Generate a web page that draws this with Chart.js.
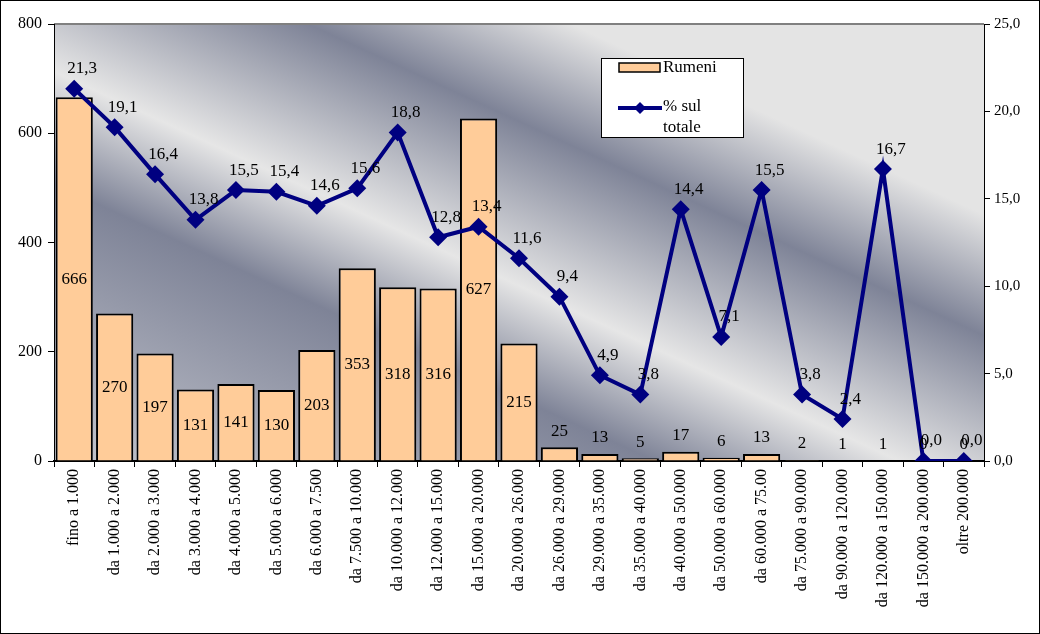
<!DOCTYPE html>
<html>
<head>
<meta charset="utf-8">
<script src="https://cdn.jsdelivr.net/npm/chart.js@4/dist/chart.umd.min.js"></script>
<style>
  body { margin: 0; background: #fff; }
  #wrap { width: 1040px; height: 634px; }
</style>
</head>
<body>
<div id="wrap"><canvas id="chart" width="1040" height="634"></canvas></div>
<script>
// categorie di reddito
const categories = [
    'fino a 1.000', 'da 1.000 a 2.000', 'da 2.000 a 3.000', 'da 3.000 a 4.000',
    'da 4.000 a 5.000', 'da 5.000 a 6.000', 'da 6.000 a 7.500', 'da 7.500 a 10.000',
    'da 10.000 a 12.000', 'da 12.000 a 15.000', 'da 15.000 a 20.000', 'da 20.000 a 26.000',
    'da 26.000 a 29.000', 'da 29.000 a 35.000', 'da 35.000 a 40.000', 'da 40.000 a 50.000',
    'da 50.000 a 60.000', 'da 60.000 a 75.00', 'da 75.000 a 90.000', 'da 90.000 a 120.000',
    'da 120.000 a 150.000', 'da 150.000 a 200.000', 'oltre 200.000'
];
const rumeni = [666, 270, 197, 131, 141, 130, 203, 353, 318, 316, 627, 215, 25, 13, 5, 17, 6, 13, 2, 1, 1, 0, 0];
const percSulTotale = [21.3, 19.1, 16.4, 13.8, 15.5, 15.4, 14.6, 15.6, 18.8, 12.8, 13.4, 11.6, 9.4, 4.9, 3.8, 14.4, 7.1, 15.5, 3.8, 2.4, 16.7, 0.0, 0.0];
const leftTicks = [0, 200, 400, 600, 800];
const rightTicks = [0, 5, 10, 15, 20, 25];

const serif = '"Liberation Serif", "Times New Roman", serif';
const fmt = v => v.toFixed(1).replace('.', ',');

// sfondo sfumato a bande diagonali + bordo grigio in alto
const sfondo = {
    id: 'sfondo',
    beforeDraw: (chart) => {
        const ctx = chart.ctx;
        const a = chart.chartArea;
        ctx.save();
        ctx.fillStyle = '#fff';
        ctx.fillRect(0, 0, chart.width, chart.height);
        const g = ctx.createLinearGradient(984, 24, 655, 738);
        g.addColorStop(0, '#e4e4e4');
        g.addColorStop(0.22, '#e4e4e4');
        g.addColorStop(0.36, '#7e8397');
        g.addColorStop(0.55, '#e6e6e6');
        g.addColorStop(0.68, '#7e8397');
        g.addColorStop(1, '#c4c6ce');
        ctx.fillStyle = g;
        ctx.fillRect(a.left, a.top, a.right - a.left, a.bottom - a.top);
        ctx.strokeStyle = '#808080';
        ctx.lineWidth = 2;
        ctx.beginPath();
        ctx.moveTo(a.left, a.top);
        ctx.lineTo(a.right, a.top);
        ctx.stroke();
        ctx.restore();
    },
    afterDraw: (chart) => {
        const ctx = chart.ctx;
        ctx.save();
        ctx.strokeStyle = '#000';
        ctx.lineWidth = 1;
        ctx.strokeRect(0.5, 0.5, chart.width - 1, chart.height - 1);
        ctx.restore();
    }
};

// etichette dei valori
const etichette = {
    id: 'etichette',
    afterDatasetsDraw: (chart) => {
        const ctx = chart.ctx;
        const yl = chart.scales.y;
        ctx.save();
        ctx.font = '17px ' + serif;
        ctx.fillStyle = '#000';
        ctx.textAlign = 'center';
        ctx.textBaseline = 'middle';

        chart.getDatasetMeta(0).data.forEach((bar, i) => {
            const v = rumeni[i];
            const top = yl.getPixelForValue(v);
            const h = yl.getPixelForValue(0) - top;
            const y = h > 24 ? top + h / 2 : top - 16;
            ctx.fillText(String(v), bar.x, y);
        });

        chart.getDatasetMeta(1).data.forEach((pt, i) => {
            ctx.fillText(fmt(percSulTotale[i]), pt.x + 8, pt.y - 20);
        });
        ctx.restore();
    }
};

// legenda disegnata a mano
const legenda = {
    id: 'legenda',
    afterDraw: (chart) => {
        const ctx = chart.ctx;
        ctx.save();
        ctx.fillStyle = '#fff';
        ctx.fillRect(601, 58, 142, 79);
        ctx.strokeStyle = '#000';
        ctx.lineWidth = 1;
        ctx.strokeRect(601.5, 58.5, 142, 79);

        ctx.fillStyle = '#ffcc99';
        ctx.fillRect(619, 63, 41, 9);
        ctx.lineWidth = 1.5;
        ctx.strokeRect(619, 63, 41, 9);

        ctx.strokeStyle = '#000080';
        ctx.lineWidth = 4;
        ctx.beginPath();
        ctx.moveTo(618, 108);
        ctx.lineTo(662, 108);
        ctx.stroke();
        ctx.fillStyle = '#000080';
        ctx.beginPath();
        ctx.moveTo(640, 102);
        ctx.lineTo(646, 108);
        ctx.lineTo(640, 114);
        ctx.lineTo(634, 108);
        ctx.closePath();
        ctx.fill();

        ctx.fillStyle = '#000';
        ctx.font = '17px ' + serif;
        ctx.textAlign = 'left';
        ctx.textBaseline = 'middle';
        ctx.fillText(chart.data.datasets[0].label, 663, 68);
        ctx.fillText('% sul', 663, 107);
        ctx.fillText('totale', 663, 128);
        ctx.restore();
    }
};

const data = {
    labels: categories,
    datasets: [
        {
            type: 'bar',
            label: 'Rumeni',
            data: rumeni,
            yAxisID: 'y',
            backgroundColor: '#ffcc99',
            borderColor: '#000',
            borderWidth: 2,
            barPercentage: 0.92,
            categoryPercentage: 1,
            order: 2,
        },
        {
            type: 'line',
            label: '% sul totale',
            data: percSulTotale,
            yAxisID: 'y1',
            borderColor: '#000080',
            backgroundColor: '#000080',
            borderWidth: 4,
            pointStyle: 'rectRot',
            pointRadius: 9,
            pointBorderWidth: 0,
            tension: 0,
            order: 1,
        }
    ]
};

const options = {
    responsive: false,
    animation: false,
    layout: { padding: { top: 24, left: 0, right: 0, bottom: 0 } },
    plugins: {
        legend: { display: false },
        tooltip: { enabled: false },
    },
    scales: {
        x: {
            offset: true,
            grid: { drawOnChartArea: false, drawTicks: true, tickLength: 6, color: '#000', offset: true },
            border: { display: true, color: '#000', width: 2 },
            ticks: {
                color: '#000',
                font: { family: serif, size: 16 },
                minRotation: 90,
                maxRotation: 90,
                autoSkip: false,
                padding: 2,
            },
            afterFit: (s) => { s.height = 173; },
        },
        y: {
            position: 'left',
            min: 0,
            max: 800,
            afterBuildTicks: (s) => { s.ticks = leftTicks.map(v => ({ value: v })); },
            grid: { drawOnChartArea: false, tickLength: 6, color: '#000' },
            border: { display: true, color: '#000', width: 1 },
            ticks: { color: '#000', font: { family: serif, size: 16 }, padding: 6 },
            afterFit: (s) => { s.width = 54; },
        },
        y1: {
            position: 'right',
            min: 0,
            max: 25,
            afterBuildTicks: (s) => { s.ticks = rightTicks.map(v => ({ value: v })); },
            grid: { drawOnChartArea: false, tickLength: 6, color: '#000' },
            border: { display: true, color: '#000', width: 1 },
            ticks: { color: '#000', font: { family: serif, size: 15 }, padding: 4, callback: (v) => fmt(v) },
            afterFit: (s) => { s.width = 56; },
        },
    },
};

new Chart(document.getElementById('chart').getContext('2d'), {
    data: data,
    options: options,
    plugins: [sfondo, etichette, legenda],
});
</script>
</body>
</html>
